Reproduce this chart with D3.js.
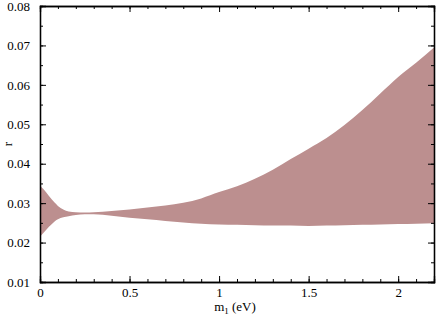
<!DOCTYPE html>
<html>
<head>
<meta charset="utf-8">
<style>
  body { margin: 0; background: #fff; }
  svg text { font-family: "Liberation Serif", "Times New Roman", Times, serif; }
</style>
</head>
<body>
<div class="chart"></div>
<script src="https://cdn.jsdelivr.net/npm/d3@7"></script>
<script>
// m1 (eV) values and the band edges for r
var m1    = [0, 0.02, 0.05, 0.08, 0.1, 0.13, 0.16, 0.2, 0.25, 0.3, 0.4, 0.5, 0.6, 0.7, 0.8, 0.9,
             1.0, 1.1, 1.2, 1.3, 1.4, 1.5, 1.6, 1.7, 1.8, 1.9, 2.0, 2.1, 2.2];
var rHigh = [0.0345, 0.0335, 0.0318, 0.0302, 0.0293, 0.0284, 0.0279, 0.0277, 0.0276, 0.0277,
             0.0280, 0.0284, 0.0289, 0.0294, 0.0301, 0.0312, 0.0328, 0.0343, 0.0362, 0.0385,
             0.0412, 0.0438, 0.0465, 0.0498, 0.0536, 0.0578, 0.0620, 0.0656, 0.0695];
var rLow  = [0.0215, 0.0225, 0.0240, 0.0253, 0.0259, 0.0264, 0.0267, 0.0270, 0.0272, 0.0272,
             0.0268, 0.0263, 0.0259, 0.0255, 0.0251, 0.0248, 0.0246, 0.0245, 0.0244, 0.0243,
             0.0243, 0.0242, 0.0243, 0.0244, 0.0245, 0.0246, 0.0247, 0.0248, 0.0249];

var xTicks = [0, 0.5, 1, 1.5, 2];
var xMinor = d3.range(0, 2.21, 0.1);
var yTicks = [0.01, 0.02, 0.03, 0.04, 0.05, 0.06, 0.07, 0.08];
var yMinor = d3.range(0.01, 0.0801, 0.005);

var width = 436, height = 316;
var margin = {left: 40, top: 6, right: 2, bottom: 34};
var w = width - margin.left - margin.right;
var h = height - margin.top - margin.bottom;
var serif = "'Liberation Serif', 'Times New Roman', Times, serif";

var svg = d3.select(".chart").append("svg").attr("width", width).attr("height", height);
var g = svg.append("g").attr("transform", "translate(" + margin.left + "," + margin.top + ")");

var x = d3.scaleLinear().domain([0, 2.2]).range([0, w]);
var y = d3.scaleLinear().domain([0.01, 0.08]).range([h, 0]);

var area = d3.area()
  .x(function(d, i) { return x(m1[i]); })
  .y0(function(d, i) { return y(rLow[i]); })
  .y1(function(d, i) { return y(rHigh[i]); })
  .curve(d3.curveMonotoneX);

g.append("path").datum(m1).attr("d", area).attr("fill", "#bc8f8f");

function fmtY(d) { return d3.format(".2f")(d); }
function fmtX(d) { return String(d); }

// minor ticks on all four sides
g.append("g").call(d3.axisBottom(x).tickValues(xMinor).tickSize(-3).tickFormat(""))
  .attr("transform", "translate(0," + h + ")");
g.append("g").call(d3.axisTop(x).tickValues(xMinor).tickSize(-3).tickFormat(""));
g.append("g").call(d3.axisLeft(y).tickValues(yMinor).tickSize(-3).tickFormat(""));
g.append("g").call(d3.axisRight(y).tickValues(yMinor).tickSize(-3).tickFormat(""))
  .attr("transform", "translate(" + w + ",0)");

// major ticks
g.append("g").attr("transform", "translate(0," + h + ")")
  .call(d3.axisBottom(x).tickValues(xTicks).tickSize(-6).tickPadding(6).tickFormat(fmtX));
g.append("g").call(d3.axisTop(x).tickValues(xTicks).tickSize(-6).tickFormat(""));
g.append("g")
  .call(d3.axisLeft(y).tickValues(yTicks).tickSize(-6).tickPadding(10).tickFormat(fmtY));
g.append("g").attr("transform", "translate(" + w + ",0)")
  .call(d3.axisRight(y).tickValues(yTicks).tickSize(-6).tickFormat(""));

g.selectAll(".domain").attr("stroke", "#000").attr("stroke-width", 1.3);
g.selectAll(".tick line").attr("stroke", "#000");
g.selectAll(".tick text").style("font-family", serif).style("font-size", "13px").attr("fill", "#000");

// axis labels
var xl = svg.append("text")
  .attr("x", margin.left + x(1.1) - 2)
  .attr("y", 311)
  .attr("text-anchor", "middle")
  .style("font-family", serif)
  .style("font-size", "13px");
xl.append("tspan").text("m");
xl.append("tspan").style("font-size", "9px").attr("dy", 3).text("1");
xl.append("tspan").attr("dy", -3).text(" (eV)");

svg.append("text")
  .attr("transform", "translate(12," + (margin.top + h / 2) + ") rotate(-90)")
  .attr("text-anchor", "middle")
  .style("font-family", serif)
  .style("font-size", "13px")
  .text("r");
</script>
</body>
</html>
